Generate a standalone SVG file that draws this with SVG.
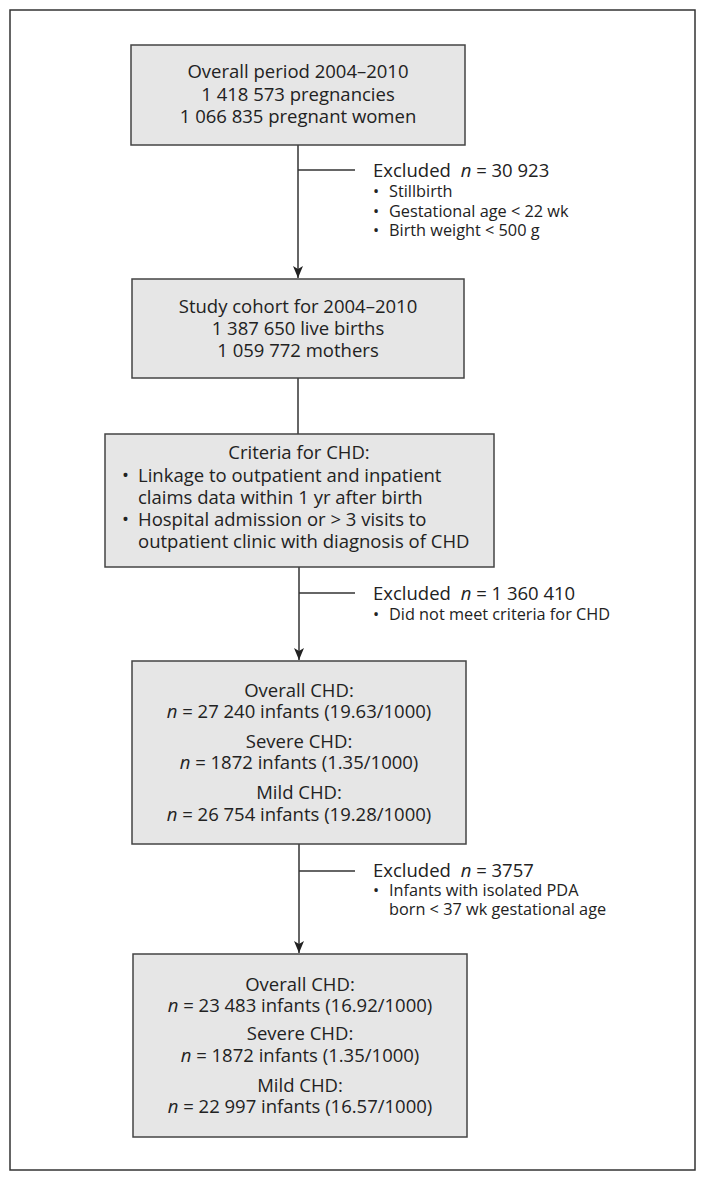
<svg xmlns="http://www.w3.org/2000/svg" width="706" height="1182" viewBox="0 0 706 1182">
<style>
.box{fill:#e6e6e6;stroke:#444;stroke-width:1.5}
.frame{fill:#fff;stroke:#333;stroke-width:1.5}
.t{font-family:"Open Sans","Noto Sans",sans-serif;font-size:18.5px;fill:#222}
.c{text-anchor:middle}
.s{font-size:16.3px}
.i{font-style:italic}
.ln{stroke:#333;stroke-width:1.5;fill:none}
</style>
<defs>
<marker id="ah" viewBox="0 0 12 10" refX="12" refY="5" markerWidth="12" markerHeight="10" markerUnits="userSpaceOnUse" orient="auto">
<path d="M0,0 L12,5 L0,10 L3,5 Z" fill="#222"/>
</marker>
</defs>
<rect class="frame" x="10" y="10" width="685" height="1160"/>
<g id="connectors">
<line class="ln" x1="298" y1="145" x2="298" y2="278" marker-end="url(#ah)"/>
<line class="ln" x1="298" y1="170" x2="355" y2="170"/>
<line class="ln" x1="298" y1="378" x2="298" y2="434"/>
<line class="ln" x1="299" y1="567" x2="299" y2="660" marker-end="url(#ah)"/>
<line class="ln" x1="299" y1="593" x2="355" y2="593"/>
<line class="ln" x1="299" y1="844" x2="299" y2="953" marker-end="url(#ah)"/>
<line class="ln" x1="299" y1="871" x2="355" y2="871"/>
</g>
<g id="n1">
<rect class="box" x="131" y="45" width="334" height="100"/>
<text class="t c" x="298" y="78">Overall period 2004–2010</text>
<text class="t c" x="298" y="101">1 418 573 pregnancies</text>
<text class="t c" x="298" y="123">1 066 835 pregnant women</text>
</g>
<g id="ex1">
<text class="t" x="373" y="177">Excluded <tspan class="i" dx="5">n</tspan> = 30 923</text>
<text class="t s" x="373" y="197">•</text>
<text class="t s" x="389" y="197">Stillbirth</text>
<text class="t s" x="373" y="217">•</text>
<text class="t s" x="389" y="217">Gestational age &lt; 22 wk</text>
<text class="t s" x="373" y="236">•</text>
<text class="t s" x="389" y="236">Birth weight &lt; 500 g</text>
</g>
<g id="n2">
<rect class="box" x="132" y="279" width="332" height="99"/>
<text class="t c" x="298" y="313">Study cohort for 2004–2010</text>
<text class="t c" x="298" y="335">1 387 650 live births</text>
<text class="t c" x="298" y="357">1 059 772 mothers</text>
</g>
<g id="n3">
<rect class="box" x="105" y="434" width="389" height="133"/>
<text class="t c" x="299" y="459">Criteria for CHD:</text>
<text class="t" x="122" y="482">•</text>
<text class="t" x="138" y="482">Linkage to outpatient and inpatient</text>
<text class="t" x="138" y="504">claims data within 1 yr after birth</text>
<text class="t" x="122" y="526">•</text>
<text class="t" x="138" y="526">Hospital admission or &gt; 3 visits to</text>
<text class="t" x="138" y="548">outpatient clinic with diagnosis of CHD</text>
</g>
<g id="ex2">
<text class="t" x="373" y="600">Excluded <tspan class="i" dx="5">n</tspan> = 1 360 410</text>
<text class="t s" x="373" y="620">•</text>
<text class="t s" x="389" y="620">Did not meet criteria for CHD</text>
</g>
<g id="n4">
<rect class="box" x="132" y="661" width="334" height="183"/>
<text class="t c" x="299" y="697">Overall CHD:</text>
<text class="t c" x="299" y="718"><tspan class="i">n</tspan> = 27 240 infants (19.63/1000)</text>
<text class="t c" x="299" y="748">Severe CHD:</text>
<text class="t c" x="299" y="769"><tspan class="i">n</tspan> = 1872 infants (1.35/1000)</text>
<text class="t c" x="299" y="799">Mild CHD:</text>
<text class="t c" x="299" y="821"><tspan class="i">n</tspan> = 26 754 infants (19.28/1000)</text>
</g>
<g id="ex3">
<text class="t" x="373" y="877">Excluded <tspan class="i" dx="5">n</tspan> = 3757</text>
<text class="t s" x="373" y="896">•</text>
<text class="t s" x="389" y="896">Infants with isolated PDA</text>
<text class="t s" x="389" y="915">born &lt; 37 wk gestational age</text>
</g>
<g id="n5">
<rect class="box" x="133" y="954" width="334" height="183"/>
<text class="t c" x="300" y="991">Overall CHD:</text>
<text class="t c" x="300" y="1012"><tspan class="i">n</tspan> = 23 483 infants (16.92/1000)</text>
<text class="t c" x="300" y="1040">Severe CHD:</text>
<text class="t c" x="300" y="1062"><tspan class="i">n</tspan> = 1872 infants (1.35/1000)</text>
<text class="t c" x="300" y="1092">Mild CHD:</text>
<text class="t c" x="300" y="1113"><tspan class="i">n</tspan> = 22 997 infants (16.57/1000)</text>
</g>
</svg>
